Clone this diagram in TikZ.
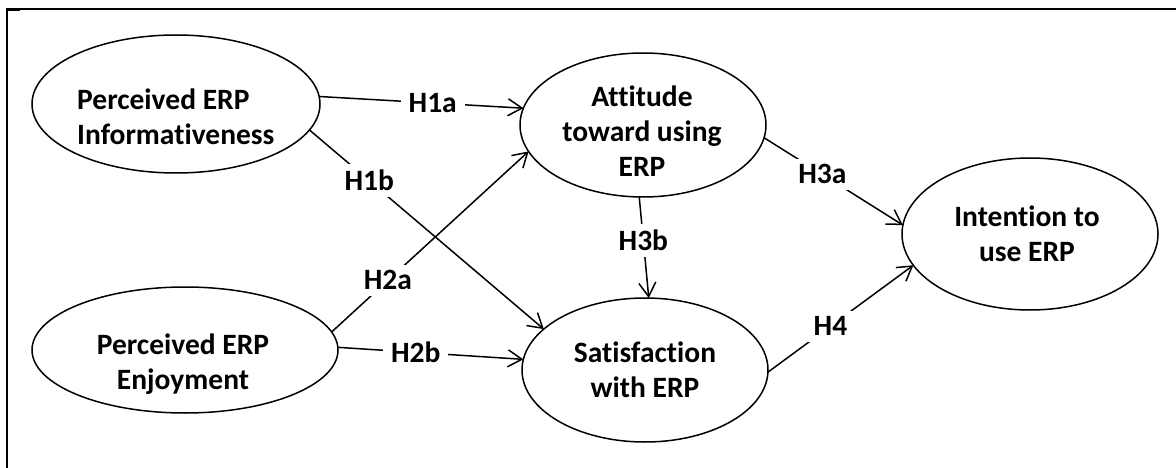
\documentclass[tikz,border=0pt]{standalone}
\usepackage{fontspec}
\setmainfont{Carlito}[Ligatures=NoCommon]
\usetikzlibrary{shapes.geometric,arrows.meta}
\begin{document}
\begin{tikzpicture}[x=1pt,y=-1pt,
  ell/.style={draw, line width=1.5pt, ellipse, inner sep=0pt, outer sep=0pt},
  txt/.style={font=\fontsize{29.5}{35}\selectfont\bfseries, align=center, inner sep=0pt},
  hyp/.style={font=\fontsize{29.5}{35}\selectfont\bfseries, fill=white, inner xsep=8pt, inner ysep=6pt},
  con/.style={line width=1.5pt, -{Straight Barb[length=14pt,width=17pt]}}]
\useasboundingbox (0,0) rectangle (1176,468);
\draw[line width=2pt] (7,468) -- (7,9) -- (1176,9);
\draw[line width=3.5pt] (6,9.5) -- (20,9.5);

\node[ell, minimum width=288pt, minimum height=138pt] (inf) at (176,104) {};
\node[ell, minimum width=306pt, minimum height=126pt] (enj) at (185,350) {};
\node[ell, minimum width=246pt, minimum height=144pt] (att) at (643,125) {};
\node[ell, minimum width=246pt, minimum height=144pt] (sat) at (645,370) {};
\node[ell, minimum width=256pt, minimum height=152pt] (int) at (1030,234) {};

\node[txt, align=left, anchor=west] (tinf) at (77,117) {Perceived ERP\\Informativeness};
\node[txt] (tenj) at (183,364) {Perceived ERP\\Enjoyment};
\node[txt] (tatt) at (642,131) {Attitude\\toward using\\ERP};
\node[txt] (tsat) at (645,370) {Satisfaction\\with ERP};
\node[txt] (tint) at (1027,234) {Intention to\\use ERP};

\draw[con] (inf.3) -- node[hyp, pos=0.556] (h1a) {H1a} (att.172);
\draw[con] (inf.-11.6) -- node[hyp, pos=0.255] (h1b) {H1b} (sat.158.6);
\draw[con] (enj.7.7) -- node[hyp, pos=0.286] (h2a) {H2a} (att.193.6);
\draw[con] (enj.1.1) -- node[hyp, pos=0.42] (h2b) {H2b} (sat.175.4);
\draw[con] (att.267.6) -- node[hyp, pos=0.43] (h3b) {H3b} (sat.87.6);
\draw[con] (att.-6.5) -- node[hyp, pos=0.42] (h3a) {H3a} (int.176.8);
\draw[con] (sat.-1) -- node[hyp, pos=0.43] (h4) {H4} (int.195.6);
\end{tikzpicture}
\end{document}
